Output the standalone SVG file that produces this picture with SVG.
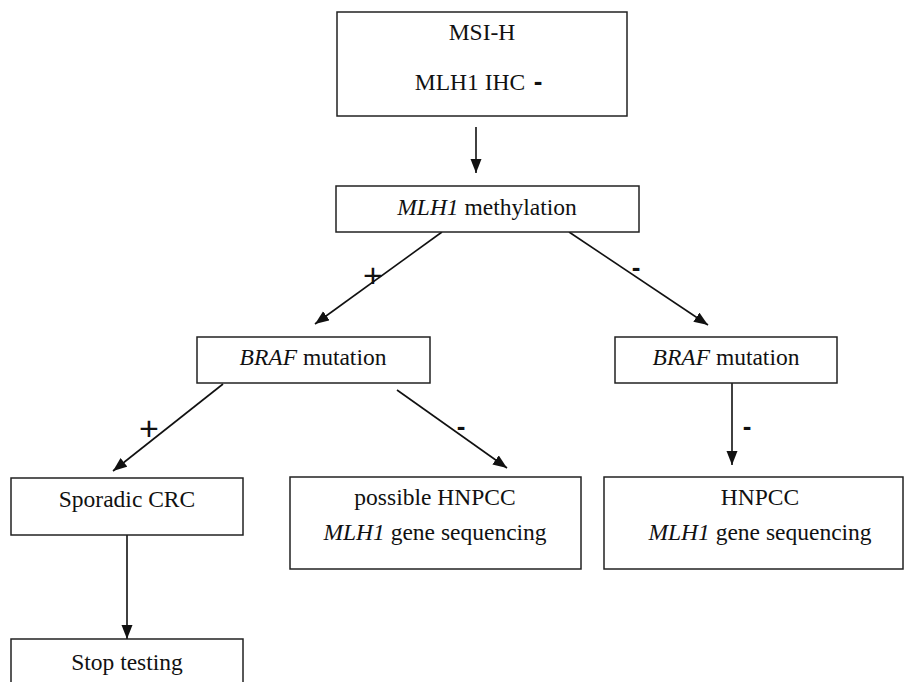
<svg xmlns="http://www.w3.org/2000/svg" width="905" height="682" viewBox="0 0 905 682">
<style>
.box{fill:#fff;stroke:#222;stroke-width:1.5}
.t{font-family:"Liberation Serif","Times New Roman",serif;font-size:23.5px;fill:#111;text-anchor:middle}
.i{font-style:italic}
.sign{font-family:"Liberation Sans",Arial,sans-serif;font-size:34px;fill:#111;text-anchor:middle}
.dash{font-family:"Liberation Sans",Arial,sans-serif;font-weight:bold;font-size:26px;fill:#111;text-anchor:middle}
.edge{stroke:#111;stroke-width:1.6;fill:none;marker-end:url(#ah)}
</style>
<defs>
<marker id="ah" markerUnits="userSpaceOnUse" markerWidth="15" markerHeight="12" refX="14" refY="5.5" orient="auto">
<path d="M0,0 L14,5.5 L0,11 z" fill="#111"/>
</marker>
</defs>
<rect width="905" height="682" fill="#fff"/>
<g id="connectors">
<line class="edge" x1="476" y1="127" x2="476" y2="173"/>
<line class="edge" x1="442" y1="232" x2="315" y2="324"/>
<line class="edge" x1="569" y1="232" x2="708" y2="325"/>
<line class="edge" x1="223" y1="384" x2="113" y2="471"/>
<line class="edge" x1="397" y1="390" x2="507" y2="468"/>
<line class="edge" x1="732" y1="383" x2="732" y2="465"/>
<line class="edge" x1="127" y1="535" x2="127" y2="639"/>
<text class="sign" x="373" y="287">+</text>
<text class="dash" x="636" y="276">-</text>
<text class="sign" x="149" y="440">+</text>
<text class="dash" x="461" y="435">-</text>
<text class="dash" x="747" y="435">-</text>
</g>
<g id="n_msi">
<rect class="box" x="337" y="12" width="290" height="104"/>
<text class="t" x="482" y="40">MSI-H</text>
<text class="t" x="470" y="90">MLH1 IHC</text>
<text class="dash" x="538" y="90">-</text>
</g>
<g id="n_meth">
<rect class="box" x="336" y="186" width="303" height="46"/>
<text class="t" x="487" y="215"><tspan class="i">MLH1</tspan> methylation</text>
</g>
<g id="n_braf1">
<rect class="box" x="197" y="337" width="233" height="46"/>
<text class="t" x="313" y="365"><tspan class="i">BRAF</tspan> mutation</text>
</g>
<g id="n_braf2">
<rect class="box" x="615" y="337" width="222" height="46"/>
<text class="t" x="726" y="365"><tspan class="i">BRAF</tspan> mutation</text>
</g>
<g id="n_sporadic">
<rect class="box" x="11" y="478" width="232" height="57"/>
<text class="t" x="127" y="507">Sporadic CRC</text>
</g>
<g id="n_possible">
<rect class="box" x="290" y="477" width="291" height="92"/>
<text class="t" x="435" y="505">possible HNPCC</text>
<text class="t" x="435" y="540"><tspan class="i">MLH1</tspan> gene sequencing</text>
</g>
<g id="n_hnpcc">
<rect class="box" x="604" y="477" width="299" height="92"/>
<text class="t" x="760" y="505">HNPCC</text>
<text class="t" x="760" y="540"><tspan class="i">MLH1</tspan> gene sequencing</text>
</g>
<g id="n_stop">
<rect class="box" x="11" y="639" width="232" height="60"/>
<text class="t" x="127" y="670">Stop testing</text>
</g>
</svg>
